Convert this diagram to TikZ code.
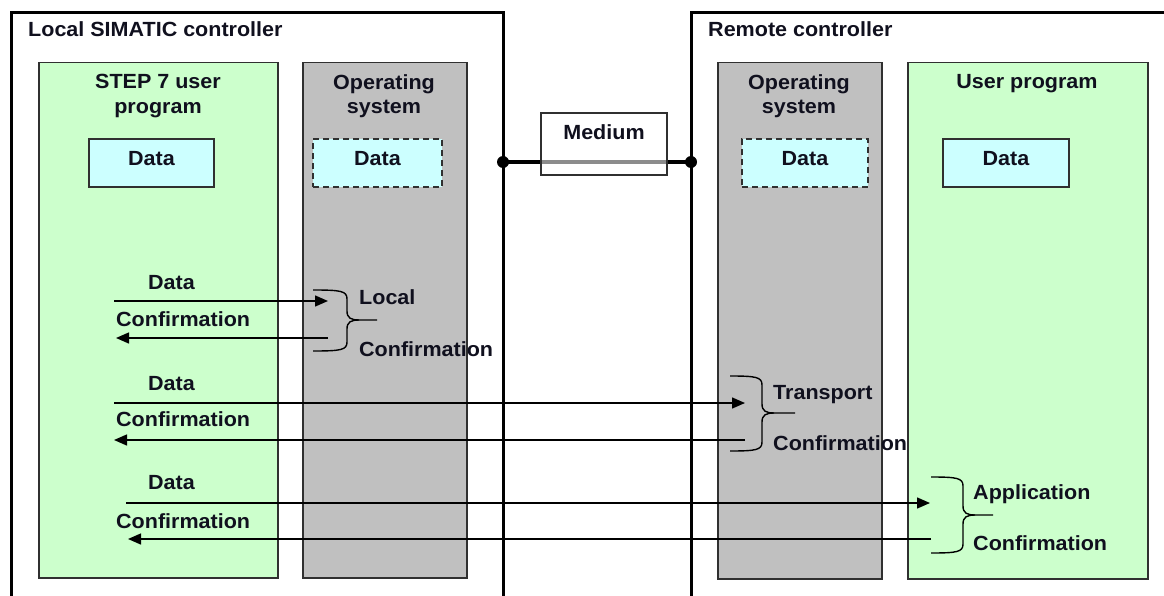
\documentclass[tikz,border=0pt]{standalone}
\usepackage{fontspec}
\setmainfont{Liberation Sans}[FakeStretch=1.05]
\usetikzlibrary{arrows.meta}
\definecolor{osgrey}{HTML}{C0C0C0}
\definecolor{upgreen}{HTML}{CCFFCC}
\definecolor{datacyan}{HTML}{CCFFFF}
\definecolor{edgecol}{HTML}{303030}
\definecolor{txtcol}{HTML}{10101E}
\tikzset{
  outer/.style={line width=3pt},
  panel/.style={draw=edgecol, line width=1.5pt, inner sep=0pt, anchor=north west},
  txt/.style={font=\bfseries\fontsize{20.5}{24.5}\selectfont, text=txtcol, inner sep=0pt},
  hdr/.style={txt, align=center, anchor=north},
  lbl/.style={txt, anchor=west, text height=14.7pt, text depth=0pt},
  databox/.style={txt, draw=edgecol, fill=datacyan, line width=1.5pt, minimum height=48pt, text height=14.7pt, text depth=10pt},
  dashbox/.style={databox, dash pattern=on 6pt off 4pt},
  medline/.style={line width=3.5pt},
  arr/.style={line width=1.4pt, -{Triangle[length=13pt,width=11pt]}},
  bracestyle/.style={line width=1.4pt}
}
\newcommand{\mybrace}[6]{%
  \draw[bracestyle] (#1,#2) .. controls ({#3-6},#2) and (#3,{#2+1}) .. (#3,{#2+9}) -- (#3,{#4-9}) .. controls (#3,{#4-2}) and ({#3+4},#4) .. ({#3+12},#4) -- (#6,#4);
  \draw[bracestyle] ({#3+12},#4) .. controls ({#3+4},#4) and (#3,{#4+2}) .. (#3,{#4+9}) -- (#3,{#5-9}) .. controls (#3,{#5-1}) and ({#3-6},#5) .. (#1,#5);
}
\begin{document}
\begin{tikzpicture}[x=1pt,y=-1pt]
\useasboundingbox (0,0) rectangle (1164,596);
% outer controllers
\draw[outer] (11.5,598) -- (11.5,13) -- (503,13) -- (503,598);
\draw[outer] (691,598) -- (691,13) -- (1166,13);
\node[lbl] (loctitle) at (28,29) {Local SIMATIC controller};
\node[lbl] (remtitle) at (708,29) {Remote controller};
% panels
\node[panel, fill=upgreen, minimum width=239pt, minimum height=515pt] (lup) at (38,62) {};
\node[panel, fill=osgrey, minimum width=164pt, minimum height=515pt] (los) at (302,62) {};
\node[panel, fill=osgrey, minimum width=164pt, minimum height=516pt] (ros) at (717,62) {};
\node[panel, fill=upgreen, minimum width=240pt, minimum height=516pt] (rup) at (907,62) {};
% headers
\node[hdr] (luph) at (158,74) {STEP 7 user\\program};
\node[hdr] (losh) at (384,74) {Operating\\system};
\node[hdr] (rosh) at (799,74) {Operating\\system};
\node[hdr] (ruph) at (1027,74) {User program};
% data boxes
\node[databox, minimum width=125pt] (ldata) at (151.5,163) {Data};
\node[dashbox, minimum width=129pt] (losdata) at (377.5,163) {Data};
\node[dashbox, minimum width=126pt] (rosdata) at (805,163) {Data};
\node[databox, minimum width=126pt] (rdata) at (1006,163) {Data};
% medium
\coordinate (lconn) at (503,162);
\coordinate (rconn) at (691,162);
\draw[medline] (lconn) -- (rconn);
\fill (lconn) circle (6pt);
\fill (rconn) circle (6pt);
\node[txt, draw=edgecol, line width=1.1pt, fill=white, fill opacity=0.55, text opacity=1, draw opacity=1,
      minimum width=126pt, minimum height=62pt, text height=14.7pt, text depth=24pt] (med) at (604,144) {Medium};
% arrow endpoints
\coordinate (d1s) at (114,301);  \coordinate (d1e) at (328,301);
\coordinate (c1s) at (328,338);  \coordinate (c1e) at (116,338);
\coordinate (d2s) at (114,403);  \coordinate (d2e) at (745,403);
\coordinate (c2s) at (745,440);  \coordinate (c2e) at (114,440);
\coordinate (d3s) at (126,503);  \coordinate (d3e) at (930,503);
\coordinate (c3s) at (931,539);  \coordinate (c3e) at (128,539);
\draw[arr] (d1s) -- (d1e);
\draw[arr] (c1s) -- (c1e);
\draw[arr] (d2s) -- (d2e);
\draw[arr] (c2s) -- (c2e);
\draw[arr] (d3s) -- (d3e);
\draw[arr] (c3s) -- (c3e);
% braces
\mybrace{313}{290}{347}{320}{351}{377}
\mybrace{730}{376}{762}{413}{451}{795}
\mybrace{931}{477}{963}{515}{553}{993}
% labels
\node[lbl] (ld1) at (148,282.5) {Data};
\node[lbl] (lc1) at (116,319.5) {Confirmation};
\node[lbl] (ld2) at (148,383) {Data};
\node[lbl] (lc2) at (116,419) {Confirmation};
\node[lbl] (ld3) at (148,482) {Data};
\node[lbl] (lc3) at (116,521) {Confirmation};
\node[lbl] (bl1) at (359,297.5) {Local};
\node[lbl] (bc1) at (359,349.5) {Confirmation};
\node[lbl] (bl2) at (773,392) {Transport};
\node[lbl] (bc2) at (773,443) {Confirmation};
\node[lbl] (bl3) at (973,492) {Application};
\node[lbl] (bc3) at (973,543) {Confirmation};
\end{tikzpicture}
\end{document}
